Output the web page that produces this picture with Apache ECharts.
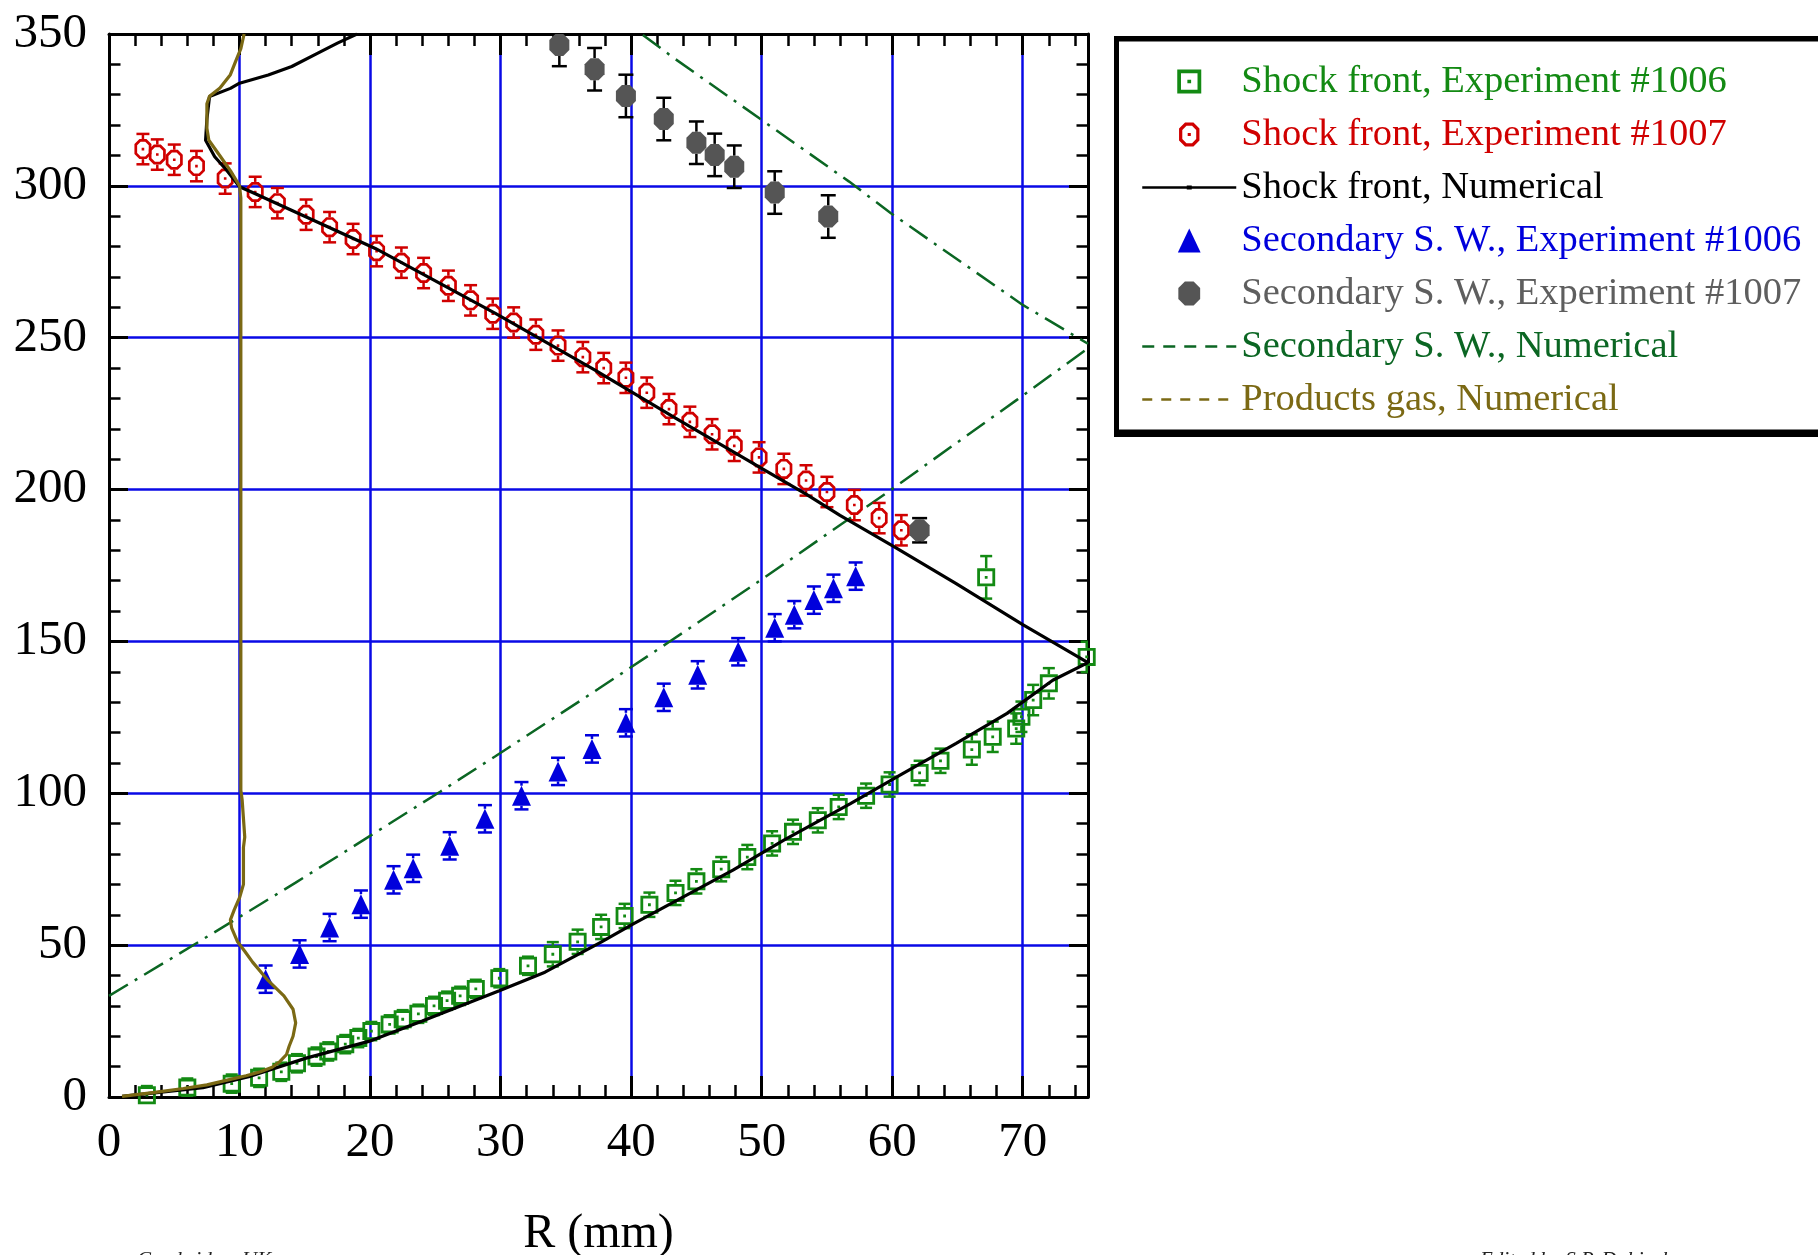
<!DOCTYPE html>
<html>
<head>
<meta charset="utf-8">
<script src="https://cdn.jsdelivr.net/npm/echarts/dist/echarts.min.js"></script>
<style>html,body{margin:0;padding:0;background:#fff}#c{width:1818px;height:1255px}</style>
</head>
<body>
<div id="c"></div>
<script>
// ---------------- data (R in mm, ordinate value, error) ----------------
const xTickValues = [0, 10, 20, 30, 40, 50, 60, 70];
const xMax = 75;
const xMinorStep = 2;
const yTickValues = [0, 50, 100, 150, 200, 250, 300, 350];

const shockFront1006 = [
  [2.9,0.6,3],[6.0,3.1,3],[9.4,4.4,3],[11.5,6.3,3],[13.2,8.3,3],[14.4,11.1,3],[15.9,13.3,3],
  [16.8,15.0,3],[18.1,17.4,3],[19.1,19.4,3],[20.1,21.7,3],[21.5,23.9,3],[22.5,25.6,3],[23.7,27.4,3],
  [24.9,30.0,3],[25.9,31.7,3],[26.9,33.3,3],[28.1,35.6,3],[29.9,39.1,3],[32.1,43.2,3],[34.0,47.0,4],
  [35.9,51.1,4],[37.7,56.0,4],[39.5,59.6,4],[41.4,63.3,4],[43.4,67.2,4],[45.0,71.0,4],[46.9,75.0,4],
  [48.9,79.0,4],[50.8,83.5,4],[52.4,87.3,4],[54.3,91.1,4],[55.9,95.5,4],[58.0,99.2,4],[59.8,102.9,4],
  [62.1,106.7,4],[63.7,110.7,4],[66.1,114.4,5],[67.7,118.6,5],[69.5,121.3,5],[69.9,125.2,5],
  [70.8,130.7,5],[72.0,136.2,5],[74.9,144.9,5],[67.2,171.1,7]
];
const shockFront1007 = [
  [2.6,312.1,5],[3.7,310.3,5],[5.0,308.6,5],[6.7,306.5,5],[8.9,302.4,5],[11.2,298.0,5],[12.9,294.3,5],
  [15.1,290.5,5],[16.9,286.4,5],[18.7,282.5,5],[20.5,278.5,5],[22.4,274.7,5],[24.1,271.3,5],[26.0,267.1,5],
  [27.7,262.3,5],[29.4,257.9,5],[31.0,255.0,5],[32.7,251.0,5],[34.4,247.4,5],[36.3,243.6,5],[37.9,240.0,5],
  [39.6,236.8,5],[41.2,231.9,5],[42.9,226.5,5],[44.5,222.3,5],[46.2,218.2,5],[47.9,214.4,5],[49.8,210.6,5],
  [51.7,206.8,5],[53.4,203.0,5],[55.0,199.2,5],[57.1,194.9,5],[59.0,190.6,5],[60.7,186.6,5]
];
const shockNumerical = [
  [19.0,350.0],[17.5,347.0],[16.0,343.7],[14.0,339.3],[12.2,336.5],[10.0,333.8],[9.3,332.1],[7.7,329.4],
  [7.5,322.0],[7.4,315.0],[8.1,309.6],[9.0,305.2],[10.0,299.7],[11.0,297.8],[20.4,279.4],[29.6,258.0],
  [37.2,239.4],[43.4,223.5],[50.0,207.0],[53.4,198.5],[56.0,191.5],[60.1,181.3],[64.9,169.0],[70.0,155.5],
  [75.0,143.0],[72.3,137.2],[68.8,126.3],[64.9,116.4],[60.6,106.0],[56.8,96.6],[51.7,84.6],[47.8,74.7],
  [44.0,65.9],[40.2,57.1],[37.7,51.0],[33.4,41.1],[29.9,35.0],[24.0,25.0],[19.9,18.3],[15.1,12.8],
  [10.7,6.7],[7.2,3.1],[1.0,0.2]
];
const secondary1006 = [
  [12.0,38.8,4.5],[14.6,47.1,4.5],[16.9,55.8,4.5],[19.3,63.5,4.5],[21.8,71.5,4.5],[23.3,75.3,4.5],
  [26.1,82.7,4.5],[28.8,91.6,4.5],[31.6,99.2,4.5],[34.4,107.2,4.5],[37.0,114.6,4.5],[39.6,123.2,4.5],
  [42.5,131.6,4.5],[45.1,139.0,4.5],[48.2,146.6,4.5],[51.0,154.5,4.5],[52.5,158.8,4.5],[54.0,163.6,4.5],
  [55.5,167.5,4.5],[57.2,171.5,4.5]
];
const secondary1007 = [
  [34.5,346.4,7],[37.2,338.4,7],[39.6,329.6,7],[42.5,322.0,7],[45.0,314.2,7],[46.4,310.2,7],
  [47.9,306.3,7],[51.0,297.8,7],[55.1,289.9,7],[62.1,186.6,4]
];
const secondaryNumLower = [
  [0,33.3],[5.0,46.2],[10.7,61.1],[14.3,70.6],[17.5,79.2],[25.4,100.6],[29.6,112.2],[37.5,134.4],
  [42.9,149.8],[50.0,170.4],[59.9,199.9],[69.6,229.7],[75.0,246.5]
];
const secondaryNumUpper = [
  [40.9,349.7],[43.3,342.0],[50.0,321.7],[56.7,301.4],[59.9,291.0],[70.0,260.8],[75.0,248.0]
];
const productsGas = [
  [1.0,0.2],[3.5,1.5],[5.7,2.8],[7.5,4.0],[9.3,5.8],[10.5,7.0],[11.6,8.3],[12.5,9.8],[13.1,11.7],
  [13.6,14.0],[13.8,16.7],[14.1,20.0],[14.3,24.4],[14.1,28.9],[13.4,33.3],[12.2,38.3],[11.0,44.4],
  [10.4,48.0],[9.85,51.1],[9.4,55.6],[9.3,58.3],[9.6,61.7],[10.0,65.6],[10.3,70.0],[10.3,75.6],
  [10.3,82.2],[10.4,85.6],[10.2,97.8],[10.1,101.0],[10.1,150.0],[10.1,200.0],[10.1,250.0],[10.1,296.0],
  [10.0,300.0],[9.3,305.0],[8.4,310.5],[7.65,315.0],[7.5,319.0],[7.5,327.0],[7.7,329.5],[8.5,332.2],
  [9.3,336.6],[9.7,341.0],[10.1,345.2],[10.35,350.0]
];

const N1 = 'Shock front, Experiment #1006';
const N2 = 'Shock front, Experiment #1007';
const N3 = 'Shock front, Numerical';
const N4 = 'Secondary S. W., Experiment #1006';
const N5 = 'Secondary S. W., Experiment #1007';
const N6 = 'Secondary S. W., Numerical';
const N7 = 'Products gas, Numerical';

// ---------------- styles ----------------
const FONT = "'Liberation Serif','Times New Roman',serif";
const GREEN = '#138a13', RED = '#d00000', BLUE = '#0000dc', GREY = '#555555',
      DKGREEN = '#0b6623', OLIVE = '#7b6914', GRIDBLUE = '#0a0ae6';

const SQ_PATH = 'path://M0,0H18V18H0Z M2.8,2.8V15.2H15.2V2.8Z M7.6,7.6H10.4V10.4H7.6Z';
const OCT_RING = 'path://M5,0H12L17,5V15L12,20H5L0,15V5Z M6.2,2.7L2.7,6.2V13.8L6.2,17.3H10.8L14.3,13.8V6.2L10.8,2.7Z M7.2,8.7H9.8V11.3H7.2Z';
const OCT_FILL = 'path://M6,0H14L20,6V16L14,22H6L0,16V6Z';
const TRI_PATH = 'path://M9.5,0L19,20H0Z';
const LINE_DOT_ICON = 'path://M0,0H0.01V0.01H0Z M0,23.99H0.01V24H0Z M0,10.7H94V13.3H0Z M44.5,10H49.5V14H44.5Z';

function errorBars(color, capHalf, halfH) {
  return function (params, api) {
    const x = api.value(0), y = api.value(1), e = api.value(2);
    const c = api.coord([x, y]);
    const t = api.coord([x, y + e])[1];
    const b = api.coord([x, y - e])[1];
    const st = { stroke: color, lineWidth: 2.5, fill: null };
    const ch = [];
    if (t < c[1] - halfH) ch.push({ type: 'line', shape: { x1: c[0], y1: t, x2: c[0], y2: c[1] - halfH }, style: st });
    ch.push({ type: 'line', shape: { x1: c[0] - capHalf, y1: t, x2: c[0] + capHalf, y2: t }, style: st });
    if (b > c[1] + halfH) ch.push({ type: 'line', shape: { x1: c[0], y1: c[1] + halfH, x2: c[0], y2: b }, style: st });
    ch.push({ type: 'line', shape: { x1: c[0] - capHalf, y1: b, x2: c[0] + capHalf, y2: b }, style: st });
    return { type: 'group', children: ch };
  };
}

const xBase = {
  type: 'value', min: xTickValues[0], max: xMax, gridIndex: 0,
  axisLine: { show: true, onZero: false, lineStyle: { color: '#000', width: 3 } },
  splitLine: { show: false }, axisLabel: { show: false }
};
const yBase = {
  type: 'value', min: yTickValues[0], max: yTickValues[yTickValues.length - 1],
  interval: yTickValues[1] - yTickValues[0], gridIndex: 0,
  axisLine: { show: true, onZero: false, lineStyle: { color: '#000', width: 3 } },
  axisTick: { show: true, inside: true, length: 19, lineStyle: { color: '#000', width: 3 } },
  minorTick: { show: true, splitNumber: 5, length: 11.5, lineStyle: { color: '#000', width: 2.5 } },
  splitLine: { show: false }, axisLabel: { show: false }
};

const option = {
  animation: false,
  backgroundColor: '#fff',
  grid: { left: 109, right: 730, top: 34, bottom: 158, outerBoundsMode: 'none', containLabel: false },
  xAxis: [
    Object.assign({}, xBase, {
      position: 'bottom', interval: xTickValues[1] - xTickValues[0],
      axisTick: { show: true, inside: true, length: 21, lineStyle: { color: '#000', width: 3 } },
      splitLine: { show: true, lineStyle: { color: GRIDBLUE, width: 2.5 } },
      axisLabel: { show: true, margin: 22, fontFamily: FONT, fontSize: 49, color: '#000',
        formatter: v => (xTickValues.indexOf(v) >= 0 ? String(v) : '') },
      name: 'R (mm)', nameLocation: 'middle', nameGap: 113,
      nameTextStyle: { fontFamily: FONT, fontSize: 48, color: '#000' }
    }),
    Object.assign({}, xBase, {
      position: 'bottom', interval: xMinorStep, axisLine: { show: false, onZero: false },
      axisTick: { show: true, inside: true, length: 12, lineStyle: { color: '#000', width: 2.5 } }
    }),
    Object.assign({}, xBase, {
      position: 'top', interval: xTickValues[1] - xTickValues[0],
      axisTick: { show: true, inside: true, length: 21, lineStyle: { color: '#000', width: 3 } }
    }),
    Object.assign({}, xBase, {
      position: 'top', interval: xMinorStep, axisLine: { show: false, onZero: false },
      axisTick: { show: true, inside: true, length: 12, lineStyle: { color: '#000', width: 2.5 } }
    })
  ],
  yAxis: [
    Object.assign({}, yBase, {
      position: 'left',
      splitLine: { show: true, lineStyle: { color: GRIDBLUE, width: 2.5 } },
      axisLabel: { show: true, margin: 22, fontFamily: FONT, fontSize: 49, color: '#000' }
    }),
    Object.assign({}, yBase, { position: 'right' })
  ],
  legend: {
    orient: 'vertical', left: 1136, top: 56, itemWidth: 94, itemHeight: 24, itemGap: 12,
    selectedMode: false, z: 5,
    textStyle: { fontFamily: FONT, fontSize: 38.5, lineHeight: 41 },
    data: [
      { name: N1, textStyle: { color: GREEN } },
      { name: N2, textStyle: { color: RED } },
      { name: N3, icon: LINE_DOT_ICON, itemStyle: { color: '#000' }, textStyle: { color: '#000' } },
      { name: N4, textStyle: { color: BLUE } },
      { name: N5, textStyle: { color: '#5e5e5e' } },
      { name: N6, lineStyle: { type: [12, 9], width: 2.5 }, itemStyle: { opacity: 0 }, textStyle: { color: DKGREEN } },
      { name: N7, lineStyle: { type: [10, 9], width: 2.5 }, itemStyle: { opacity: 0 }, textStyle: { color: OLIVE } }
    ]
  },
  graphic: [
    { type: 'rect', z: 1, silent: true, shape: { x: 1114, y: 36, width: 720, height: 401 }, style: { fill: '#000' } },
    { type: 'rect', z: 1, silent: true, shape: { x: 1119, y: 41.5, width: 720, height: 388 }, style: { fill: '#fff' } },
    { type: 'text', z: 1, silent: true, x: 137, y: 1250,
      style: { text: 'Cambridge, UK', font: "italic 21px 'Liberation Serif', serif", fill: '#222' } },
    { type: 'text', z: 1, silent: true, x: 1480, y: 1250,
      style: { text: 'Edited by S.P. Dubinsky', font: "italic 21px 'Liberation Serif', serif", fill: '#222' } }
  ],
  series: [
    { type: 'line', name: N6, data: secondaryNumLower, symbol: 'none', showSymbol: false, silent: true,
      lineStyle: { color: DKGREEN, width: 2.5, type: [22, 8, 3, 8] }, itemStyle: { color: DKGREEN }, z: 2 },
    { type: 'line', name: N6, data: secondaryNumUpper, symbol: 'none', showSymbol: false, silent: true,
      lineStyle: { color: DKGREEN, width: 2.5, type: [22, 8, 3, 8] }, itemStyle: { color: DKGREEN }, z: 2 },
    { type: 'custom', renderItem: errorBars(BLUE, 7, 10), data: secondary1006, encode: { x: 0, y: 1 }, clip: true, silent: true, z: 3 },
    { type: 'scatter', name: N4, data: secondary1006, symbol: TRI_PATH, symbolSize: [19, 20],
      itemStyle: { color: BLUE, opacity: 1 }, silent: true, z: 3 },
    { type: 'custom', renderItem: errorBars(RED, 6.5, 10), data: shockFront1007, encode: { x: 0, y: 1 }, clip: true, silent: true, z: 3 },
    { type: 'scatter', name: N2, data: shockFront1007, symbol: OCT_RING, symbolSize: [17, 20],
      itemStyle: { color: RED, opacity: 1 }, silent: true, z: 3 },
    { type: 'custom', renderItem: errorBars(GREEN, 6, 9), data: shockFront1006, encode: { x: 0, y: 1 }, clip: true, silent: true, z: 3 },
    { type: 'scatter', name: N1, data: shockFront1006, symbol: SQ_PATH, symbolSize: [18, 18],
      itemStyle: { color: GREEN, opacity: 1 }, silent: true, z: 3 },
    { type: 'line', name: N3, data: shockNumerical, symbol: 'none', showSymbol: false, silent: true,
      lineStyle: { color: '#000', width: 3.2 }, itemStyle: { color: '#000' }, z: 4 },
    { type: 'line', name: N7, data: productsGas, symbol: 'none', showSymbol: false, silent: true,
      lineStyle: { color: OLIVE, width: 3.2 }, itemStyle: { color: OLIVE }, z: 4 },
    { type: 'custom', renderItem: errorBars('#000', 7.5, 11), data: secondary1007, encode: { x: 0, y: 1 }, clip: true, silent: true, z: 4 },
    { type: 'scatter', name: N5, data: secondary1007, symbol: OCT_FILL, symbolSize: [20, 22],
      itemStyle: { color: GREY, opacity: 1 }, silent: true, z: 4 }
  ]
};

const chart = echarts.init(document.getElementById('c'), null, { renderer: 'canvas' });
chart.setOption(option);
</script>
</body>
</html>
